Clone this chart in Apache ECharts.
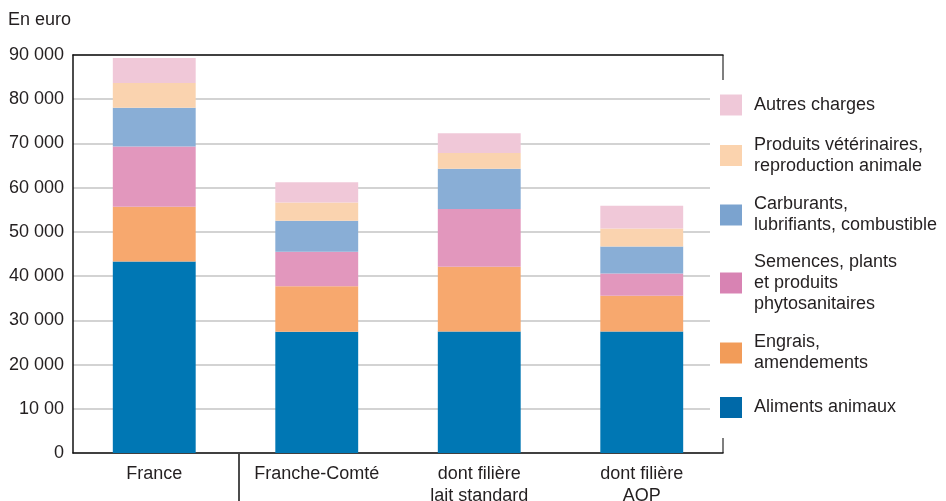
<!DOCTYPE html>
<html>
<head>
<meta charset="utf-8">
<script src="https://cdn.jsdelivr.net/npm/echarts@6/dist/echarts.min.js"></script>
<style>
  html, body { margin: 0; padding: 0; background: #fff; }
  #chart { width: 946px; height: 501px; }
</style>
</head>
<body>
<div id="chart"></div>
<script>
// data
const categories = ['France', 'Franche-Comté', 'dont filière\nlait standard', 'dont filière\nAOP'];
const yTickLabels = ['0', '10 00', '20 000', '30 000', '40 000', '50 000', '60 000', '70 000', '80 000', '90 000'];

const alimentsAnimaux = [43300, 27400, 27450, 27450];
const engrais = [12400, 10300, 14650, 8100];
const semences = [13600, 7800, 13100, 5050];
const carburants = [8750, 7000, 9050, 6100];
const veterinaires = [5600, 4150, 3600, 4050];
const autresCharges = [5650, 4600, 4450, 5150];

const FONT = '"Liberation Sans", Arial, Helvetica, sans-serif';
const TEXT = '#231f20';

// series definitions, bottom to top
const stack = [
    {name: 'Aliments animaux', data: alimentsAnimaux, color: '#0077b4', legendColor: '#0069a8', label: 'Aliments animaux'},
    {name: 'Engrais', data: engrais, color: '#f7a86e', legendColor: '#f29c59', label: 'Engrais,\namendements'},
    {name: 'Semences', data: semences, color: '#e297bd', legendColor: '#d883b3', label: 'Semences, plants\net produits\nphytosanitaires'},
    {name: 'Carburants', data: carburants, color: '#89aed6', legendColor: '#7ba3cf', label: 'Carburants,\nlubrifiants, combustible'},
    {name: 'Produits', data: veterinaires, color: '#fad3af', legendColor: '#fbd3ae', label: 'Produits vétérinaires,\nreproduction animale'},
    {name: 'Autres', data: autresCharges, color: '#f0c8d8', legendColor: '#efc8d8', label: 'Autres charges'}
];

// legend vertical centres (one legend box per item)
const legendCentres = [407.5, 353, 283, 215, 155.5, 105];

const legends = stack.map((s, i) => {
    const lines = s.label.split('\n').length;
    return {
        data: [{name: s.name, itemStyle: {color: s.legendColor}}],
        orient: 'vertical',
        left: 720,
        top: legendCentres[i] - lines * 21 / 2,
        padding: 0,
        itemWidth: 22,
        itemHeight: 21,
        icon: 'rect',
        selectedMode: false,
        formatter: () => s.label,
        textStyle: {
            fontFamily: FONT,
            fontSize: 18,
            lineHeight: 21,
            color: TEXT,
            padding: [0, 0, 0, 7]
        }
    };
});

const chart = echarts.init(document.getElementById('chart'), null, {renderer: 'canvas'});

chart.setOption({
    animation: false,
    backgroundColor: '#fff',
    title: {
        text: 'En euro',
        left: 8,
        top: 11,
        padding: 0,
        textStyle: {fontFamily: FONT, fontSize: 18, fontWeight: 'normal', color: TEXT}
    },
    legend: legends,
    grid: [
        {left: 73, top: 55, right: 223, bottom: 48, containLabel: false, outerBoundsMode: 'none'},
        {left: 73, top: 55, right: 236, bottom: 48, containLabel: false, outerBoundsMode: 'none'}
    ],
    xAxis: [
        {
            type: 'category',
            gridIndex: 0,
            data: categories,
            position: 'bottom',
            axisLine: {lineStyle: {color: '#111', width: 1.5}},
            axisTick: {show: false},
            axisLabel: {
                interval: 0,
                margin: 10,
                fontFamily: FONT,
                fontSize: 18,
                lineHeight: 22,
                color: TEXT
            }
        },
        {
            type: 'category',
            gridIndex: 0,
            data: categories,
            position: 'top',
            axisLine: {lineStyle: {color: '#111', width: 1.5}},
            axisTick: {show: false},
            axisLabel: {show: false}
        },
        {
            type: 'value',
            gridIndex: 1,
            min: 0,
            max: 1,
            show: false
        }
    ],
    yAxis: [
        {
            type: 'value',
            gridIndex: 0,
            min: 0,
            max: 90000,
            interval: 10000,
            axisLine: {show: true, lineStyle: {color: '#111', width: 1.5}},
            axisTick: {show: false},
            splitLine: {show: false},
            axisLabel: {
                margin: 9,
                fontFamily: FONT,
                fontSize: 18,
                color: TEXT,
                formatter: (v) => yTickLabels[Math.round(v / 10000)]
            }
        },
        {
            type: 'value',
            gridIndex: 1,
            min: 0,
            max: 90000,
            interval: 10000,
            axisLine: {show: false},
            axisTick: {show: false},
            axisLabel: {show: false},
            splitLine: {show: true, lineStyle: {color: '#d3d3d3', width: 2}}
        }
    ],
    series: stack.map(s => ({
        name: s.name,
        type: 'bar',
        stack: 'total',
        xAxisIndex: 0,
        yAxisIndex: 0,
        barWidth: '51%',
        data: s.data,
        itemStyle: {color: s.color},
        z: 3
    })),
    graphic: [
        // right frame stubs and category separator below the axis
        {type: 'line', shape: {x1: 723, y1: 55, x2: 723, y2: 80}, style: {stroke: '#555', lineWidth: 1.5}},
        {type: 'line', shape: {x1: 723, y1: 453, x2: 723, y2: 438}, style: {stroke: '#555', lineWidth: 1.5}},
        {type: 'line', shape: {x1: 239, y1: 453, x2: 239, y2: 501}, style: {stroke: '#111', lineWidth: 1.5}}
    ]
});
</script>
</body>
</html>
